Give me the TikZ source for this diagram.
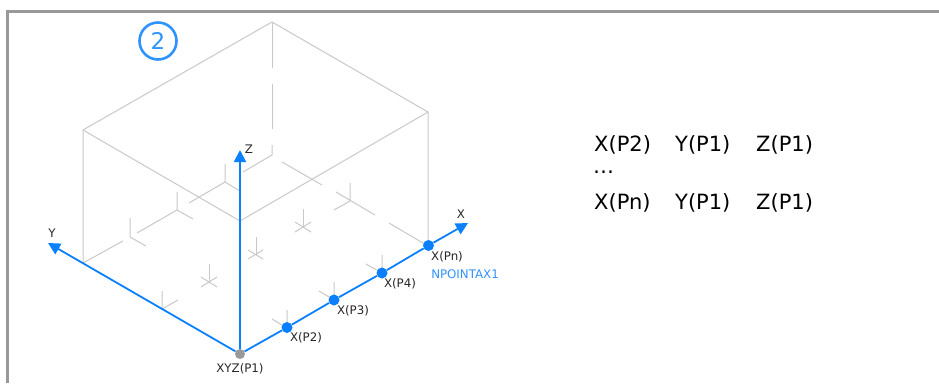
\documentclass[tikz,border=0pt]{standalone}
\usepackage{fontspec}
\setmainfont{DejaVu Sans}
\usetikzlibrary{arrows.meta,positioning}
\definecolor{axisblue}{HTML}{0A80FF}
\definecolor{labelblue}{HTML}{2E93FF}
\definecolor{gridgray}{HTML}{C8C8C8}
\definecolor{framegray}{HTML}{999999}

\begin{document}
\begin{tikzpicture}[
  x=1pt, y=-1pt,
  font=\fontsize{11.8}{14}\selectfont,
  grid/.style={draw=gridgray, line width=1pt},
  arr/.style={-{Triangle[length=12pt,width=12pt]}, draw=axisblue, line width=1.8pt},
  axis/.style={draw=axisblue, line width=1.8pt},
  pt/.style={circle, fill=axisblue, inner sep=0pt, minimum size=11pt},
  big/.style={font=\fontsize{21}{25}\selectfont, anchor=west, inner sep=0pt},
  lab/.style={inner sep=0pt, text=black!85}
]
  \useasboundingbox (0,0) rectangle (939,383);
  % frame
  \draw[framegray, line width=3.3pt] (7.5,383) -- (7.5,11.5) -- (939,11.5);
  % box
  \draw[grid] (83,263) -- (83,130) -- (272,22) -- (428,112) -- (428,246);
  \draw[grid] (83,130) -- (240,221) -- (428,112);
  \draw[grid] (272,22) -- (272,68);
  \draw[grid] (272,84) -- (272,129);
  \draw[grid] (272,145) -- (272,155) -- (243,172);
  \draw[grid] (282,162) -- (322,185);
  \draw[grid] (336,192) -- (375,215);
  \draw[grid] (389,223) -- (428,246);
  \draw[grid] (225,182) -- (189,203);
  \draw[grid] (177,210) -- (137,233);
  \draw[grid] (123,241) -- (83,263);
  % ticks
  \draw[grid] (225,164) -- (225,182) -- (240,191);
  \draw[grid] (177,192) -- (177,210) -- (193,219);
  \draw[grid] (130,218) -- (130,237) -- (146,246);
  \draw[grid] (350,183) -- (350,201) -- (334,210);
  \draw[grid] (256,237) -- (256,255);
  \draw[grid] (248,259) -- (263,250);
  \draw[grid] (248,250) -- (263,259);
  \draw[grid] (209,264) -- (209,282);
  \draw[grid] (201,287) -- (217,277);
  \draw[grid] (201,277) -- (217,287);
  \draw[grid] (303,209) -- (303,227);
  \draw[grid] (295,232) -- (311,222);
  \draw[grid] (295,222) -- (311,232);
  \draw[grid] (162,291) -- (162,309) -- (178,300);
  \draw[grid] (287,310) -- (287,328) -- (272,319);
  \draw[grid] (334,282) -- (334,300) -- (319,291);
  \draw[grid] (382,255) -- (382,273) -- (366,264);

  \node[circle, draw=labelblue, line width=2.6pt, minimum size=37pt, inner sep=0pt, text=labelblue, font=\fontsize{23}{27}\selectfont] (num) at (158,41) {2};

  \coordinate (xtip) at (468,223);
  \coordinate (ytip) at (48,243);
  \coordinate (ztip) at (240,150);
  \node[circle, fill=framegray, inner sep=0pt, minimum size=10pt] (p1) at (240,354) {};
  \node[pt] (p2) at (287,327.5) {};
  \node[pt] (p3) at (334,300) {};
  \node[pt] (p4) at (382,273) {};
  \node[pt] (pn) at (428.5,245.5) {};

  \draw[arr] (p1) -- (ytip);
  \draw[arr] (p1) -- (ztip);
  \draw[axis] (p1) -- (p2);
  \draw[axis] (p2) -- (p3);
  \draw[axis] (p3) -- (p4);
  \draw[axis] (p4) -- (pn);
  \draw[arr] (pn) -- (xtip);

  \node[lab] (xlab) at (461,214.5) {X};
  \node[lab] (ylab) at (52,233.5) {Y};
  \node[lab] (zlab) at (249,149) {Z};
  \node[lab] (lp1) at (240,368.5) {XYZ(P1)};
  \node[lab] (lp2) at (306,338) {X(P2)};
  \node[lab] (lp3) at (353,311) {X(P3)};
  \node[lab] (lp4) at (400,284) {X(P4)};
  \node[lab] (lpn) at (447,257) {X(Pn)};
  \node[inner sep=0pt, text=labelblue] (npt) at (465,274) {NPOINTAX1};

  \node[big] (r1a) at (594,144.5) {X(P2)};
  \node[big] (r1b) at (675,144.5) {Y(P1)};
  \node[big] (r1c) at (756,144.5) {Z(P1)};
  \node[big] (r2a) at (593,172.5) {…};
  \node[big] (r3a) at (594,203) {X(Pn)};
  \node[big] (r3b) at (675,203) {Y(P1)};
  \node[big] (r3c) at (756,203) {Z(P1)};
\end{tikzpicture}
\end{document}
